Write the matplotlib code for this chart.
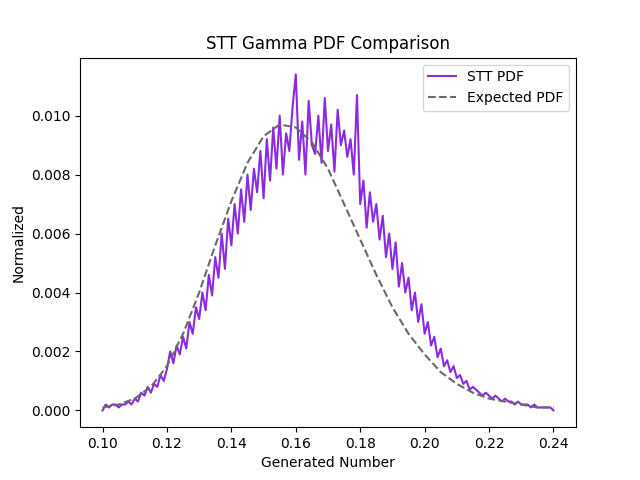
import matplotlib
matplotlib.use("Agg")
import matplotlib.pyplot as plt
import numpy as np

# STT sampled pdf, one value per 0.001 step from 0.100 to 0.240
stt_x = np.round(np.arange(0.100, 0.2405, 0.001), 3)
stt_pdf = [
  0.0000, 0.0002, 0.0001, 0.0002, 0.0002, 0.0001, 0.0002, 0.0002, 0.0003, 0.0002,
  0.0004, 0.0003, 0.0006, 0.0005, 0.0008, 0.0006, 0.0009, 0.0008, 0.0012, 0.0010,
  0.0014, 0.0020, 0.0016, 0.0022, 0.0019, 0.0025, 0.0021, 0.0030, 0.0026, 0.0035,
  0.0031, 0.0040, 0.0034, 0.0046, 0.0039, 0.0052, 0.0045, 0.0060, 0.0048, 0.0065,
  0.0056, 0.0070, 0.0060, 0.0075, 0.0064, 0.0080, 0.0068, 0.0082, 0.0074, 0.0088,
  0.0072, 0.0092, 0.0078, 0.0096, 0.0082, 0.0100, 0.0080, 0.0094, 0.0088, 0.0103,
  0.0114, 0.0085, 0.0098, 0.0080, 0.0105, 0.0090, 0.0087, 0.0100, 0.0084, 0.0106,
  0.0088, 0.0097, 0.0081, 0.0102, 0.0090, 0.0095, 0.0086, 0.0092, 0.0080, 0.0107,
  0.0070, 0.0078, 0.0062, 0.0074, 0.0064, 0.0070, 0.0058, 0.0066, 0.0052, 0.0060,
  0.0048, 0.0057, 0.0042, 0.0050, 0.0040, 0.0045, 0.0034, 0.0040, 0.0030, 0.0036,
  0.0026, 0.0030, 0.0022, 0.0025, 0.0018, 0.0021, 0.0015, 0.0017, 0.0013, 0.0015,
  0.0011, 0.0012, 0.0009, 0.0010, 0.0007, 0.0008, 0.0007, 0.0006, 0.0005, 0.0006,
  0.0005, 0.0004, 0.0005, 0.0004, 0.0003, 0.0004, 0.0003, 0.0003, 0.0002, 0.0003,
  0.0002, 0.0002, 0.0002, 0.0001, 0.0002, 0.0001, 0.0001, 0.0001, 0.0001, 0.0001,
  0.0000,
]

# expected pdf, every 0.005
exp_x = np.round(np.arange(0.100, 0.2405, 0.005), 3)
exp_pdf = [
  0.0001, 0.0002, 0.0004, 0.0008, 0.0015, 0.0026, 0.0040, 0.0056, 0.0071, 0.0084,
  0.0093, 0.0097, 0.0096, 0.0091, 0.0082, 0.0070, 0.0058, 0.0046, 0.0035, 0.0026,
  0.0019, 0.0013, 0.0009, 0.0006, 0.0004, 0.0003, 0.0002, 0.0001, 0.0001,
]

fig, ax = plt.subplots(figsize=(6.4, 4.8), dpi=100)
ax.plot(stt_x, stt_pdf, color="#8a2be2", label="STT PDF")
ax.plot(exp_x, exp_pdf, color="dimgray", linestyle="--", label="Expected PDF")
ax.set_title("STT Gamma PDF Comparison")
ax.set_xlabel("Generated Number")
ax.set_ylabel("Normalized")
ax.legend(loc="upper right")
plt.savefig("out.png")
